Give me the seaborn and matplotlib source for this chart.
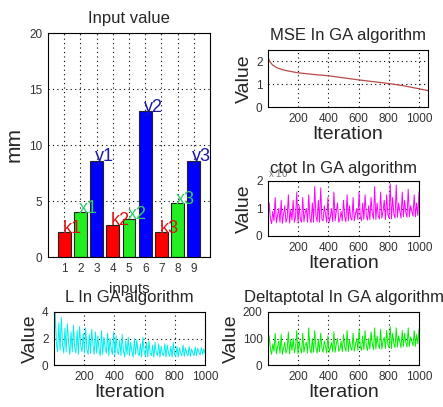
import numpy as np
import pandas as pd
import matplotlib
matplotlib.use('Agg')
import matplotlib.pyplot as plt
import seaborn as sns

# bar chart data
bar_pos = ['1', '2', '3', '4', '5', '6', '7', '8', '9']
bar_names = ['k1', 'x1', 'y1', 'k2', 'x2', 'y2', 'k3', 'x3', 'y3']
bar_vals = [2.2, 4.0, 8.6, 2.9, 3.4, 13.0, 2.2, 4.8, 8.6]

# MSE curve (smooth)
mse_iter = [1, 10, 30, 60, 100, 150, 200, 300, 400, 500, 600, 700, 800, 900, 1000, 1060]
mse_vals = [2.2, 2.02, 1.85, 1.72, 1.63, 1.56, 1.5, 1.43, 1.37, 1.28, 1.19, 1.11, 1.03, 0.93, 0.8, 0.72]

# ctot (x 10^4)
ctot_vals = [0.5, 1.2, 0.62, 0.45, 0.9, 0.55, 1.4, 0.48, 0.75, 1.0, 0.5, 1.3, 0.46, 0.8, 1.1, 0.5, 0.65, 1.5,
             0.47, 0.95, 0.58, 1.3, 0.5, 0.7, 1.6, 0.48, 1.1, 0.6, 0.5, 1.4, 0.52, 0.85, 1.0, 0.5, 1.5, 0.63,
             0.49, 1.2, 0.5, 1.8, 0.72, 0.52, 1.3, 0.5, 1.75, 0.6, 0.55, 1.1, 0.8, 0.5, 1.4, 0.5, 0.68, 1.0,
             0.52, 1.6, 0.55, 0.9, 1.2, 0.5, 0.62, 0.9, 0.55, 1.3, 0.7, 0.52, 1.5, 0.55, 1.1, 0.66, 0.58, 1.4,
             0.55, 0.8, 1.0, 0.6, 1.6, 0.7, 0.55, 1.2, 0.6, 1.5, 0.75, 0.58, 1.1, 0.6, 1.4, 0.82, 0.62, 1.8,
             0.6, 1.2, 0.72, 0.62, 1.6, 0.65, 0.9, 1.3, 0.6, 1.5, 0.78, 0.65, 1.9, 0.62, 1.4, 0.8, 0.65, 1.85,
             0.68, 1.2, 0.9, 0.65, 1.6, 0.7, 1.3, 0.85, 0.68, 1.7, 0.7, 1.1, 0.9, 0.72, 1.5, 0.7, 1.2, 0.75, 1.6]

# L
l_vals = [1.2, 4.0, 1.6, 1.0, 3.2, 1.1, 3.6, 1.5, 0.9, 2.8, 1.0, 3.1, 1.7, 0.8, 2.5, 1.0, 3.0, 1.3,
          0.9, 2.6, 0.8, 2.9, 1.4, 1.0, 2.4, 0.9, 2.8, 1.2, 0.8, 2.3, 0.9, 2.7, 1.5, 0.8, 2.5, 0.9,
          2.2, 1.1, 0.7, 2.6, 0.8, 2.1, 1.3, 0.9, 2.4, 0.7, 2.0, 1.2, 0.8, 2.5, 0.7, 2.2, 1.0, 0.8,
          1.9, 0.7, 2.3, 1.1, 0.6, 1.8, 0.8, 2.1, 0.7, 1.7, 1.0, 0.6, 2.0, 0.8, 1.9, 0.9, 0.7, 1.6,
          0.6, 2.1, 1.0, 0.7, 1.7, 0.6, 1.8, 0.9, 0.7, 1.5, 0.6, 1.7, 0.9, 0.7, 1.6, 0.6, 1.4, 0.85,
          0.7, 1.6, 0.6, 1.5, 0.9, 0.65, 1.4, 0.6, 1.7, 0.8, 0.65, 1.4, 0.6, 1.3, 0.9, 0.7, 1.5, 0.65,
          1.3, 0.85, 0.7, 1.4, 0.65, 1.2, 0.9, 0.7, 1.35, 0.7, 1.25, 0.95, 0.75, 1.3, 0.8, 1.2, 0.9]

# Deltaptotal
delta_vals = [45, 110, 60, 40, 80, 52, 120, 42, 70, 90, 45, 115, 40, 65, 85, 45, 58, 125,
              42, 95, 55, 100, 45, 68, 130, 42, 90, 60, 45, 120, 48, 75, 85, 45, 140, 58,
              45, 100, 48, 130, 66, 45, 95, 50, 120, 62, 48, 90, 72, 45, 110, 48, 64, 85,
              50, 125, 48, 80, 100, 52, 60, 90, 50, 115, 68, 52, 130, 50, 95, 66, 55, 120,
              52, 78, 100, 55, 135, 70, 55, 110, 58, 130, 72, 55, 100, 60, 125, 80, 58, 140,
              60, 110, 74, 62, 135, 60, 90, 105, 62, 130, 78, 65, 145, 62, 120, 82, 65, 140,
              68, 110, 88, 65, 130, 70, 120, 85, 68, 140, 70, 105, 90, 72, 130, 70, 115, 80, 135]

sns.set_style('white')
plt.rcParams['font.family'] = ['Liberation Sans', 'DejaVu Sans']

fig = plt.figure(figsize=(4.43, 4.07), dpi=100)
W, H = 443.0, 407.0


def box(l, r, t, b):
    return [l / W, (H - b) / H, (r - l) / W, (b - t) / H]


def style_ax(ax):
    for s in ax.spines.values():
        s.set_visible(True)
        s.set_color('black')
        s.set_linewidth(0.8)
    ax.tick_params(direction='in', length=3, labelsize=8.5, colors='#333333', pad=4)
    ax.grid(True, linestyle=(0, (1, 3)), color='black', linewidth=0.8)


def iterations(vals):
    # iteration index for each sampled value
    return np.linspace(1, 1000, len(vals))


# bar chart
ax0 = fig.add_axes(box(48, 210, 33, 257))
bar_colors = ['#ff0000', '#22ee22', '#0000ff'] * 3
sns.barplot(x=bar_pos, y=bar_vals, hue=bar_pos, palette=bar_colors, width=0.8,
            edgecolor='#222222', linewidth=0.8, saturation=1, legend=False, ax=ax0)
ax0.set_xlim(-1, 9)
ax0.set_ylim(0, 20)
ax0.set_yticks([0, 5, 10, 15, 20])
style_ax(ax0)
ax0.set_axisbelow(True)
ax0.set_title('Input value', fontsize=12, pad=7)
ax0.set_ylabel('mm', fontsize=15, labelpad=4)
ax0.set_xlabel('inputs', fontsize=11, labelpad=5)
text_colors = {'k': '#dd1111', 'x': '#33cc66', 'y': '#1a1aa8'}
for i, (name, v) in enumerate(zip(bar_names, bar_vals)):
    ax0.text(i - 0.1, v - 0.4, name, color=text_colors[name[0]], fontsize=13,
             ha='left', va='bottom')

ticks = [200, 400, 600, 800, 1000]

# MSE
ax1 = fig.add_axes(box(268, 428, 50, 107))
sns.lineplot(x=mse_iter, y=mse_vals, color='#b84a4a', linewidth=0.9, ax=ax1)
ax1.set_xlim(1, 1060)
ax1.set_ylim(0, 2.5)
ax1.set_yticks([0, 1, 2])
ax1.set_xticks(ticks)
style_ax(ax1)
ax1.set_title('MSE In GA algorithm', fontsize=12, pad=7)
ax1.set_ylabel('Value', fontsize=14, labelpad=2)
ax1.set_xlabel('Iteration', fontsize=14, labelpad=1)

# ctot
ax2 = fig.add_axes(box(268, 419, 181, 236))
sns.lineplot(x=iterations(ctot_vals), y=ctot_vals, color='#ff00ff', linewidth=0.7, ax=ax2)
ax2.set_xlim(1, 1000)
ax2.set_ylim(0, 2)
ax2.set_yticks([0, 1, 2])
ax2.set_xticks(ticks)
style_ax(ax2)
ax2.set_title('ctot In GA algorithm', fontsize=12, pad=6)
ax2.set_ylabel('Value', fontsize=14, labelpad=2)
ax2.set_xlabel('Iteration', fontsize=14, labelpad=1)
ax2.text(0.0, 1.05, 'x 10$^{4}$', transform=ax2.transAxes, fontsize=7, color='#777777')

# L
ax3 = fig.add_axes(box(54, 205, 312, 365))
sns.lineplot(x=iterations(l_vals), y=l_vals, color='#00eeee', linewidth=0.7, ax=ax3)
ax3.set_xlim(1, 1000)
ax3.set_ylim(0, 4)
ax3.set_yticks([0, 2, 4])
ax3.set_xticks(ticks)
style_ax(ax3)
ax3.set_title('L In GA algorithm', fontsize=12, pad=7)
ax3.set_ylabel('Value', fontsize=14, labelpad=2)
ax3.set_xlabel('Iteration', fontsize=14, labelpad=1)

# Deltaptotal
ax4 = fig.add_axes(box(268, 419, 312, 365))
sns.lineplot(x=iterations(delta_vals), y=delta_vals, color='#00ee00', linewidth=0.7, ax=ax4)
ax4.set_xlim(1, 1000)
ax4.set_ylim(0, 200)
ax4.set_yticks([0, 100, 200])
ax4.set_xticks(ticks)
style_ax(ax4)
ax4.set_title('Deltaptotal In GA algorithm', fontsize=12, pad=7)
ax4.set_ylabel('Value', fontsize=14, labelpad=2)
ax4.set_xlabel('Iteration', fontsize=14, labelpad=1)

fig.savefig('out.png', dpi=100)
